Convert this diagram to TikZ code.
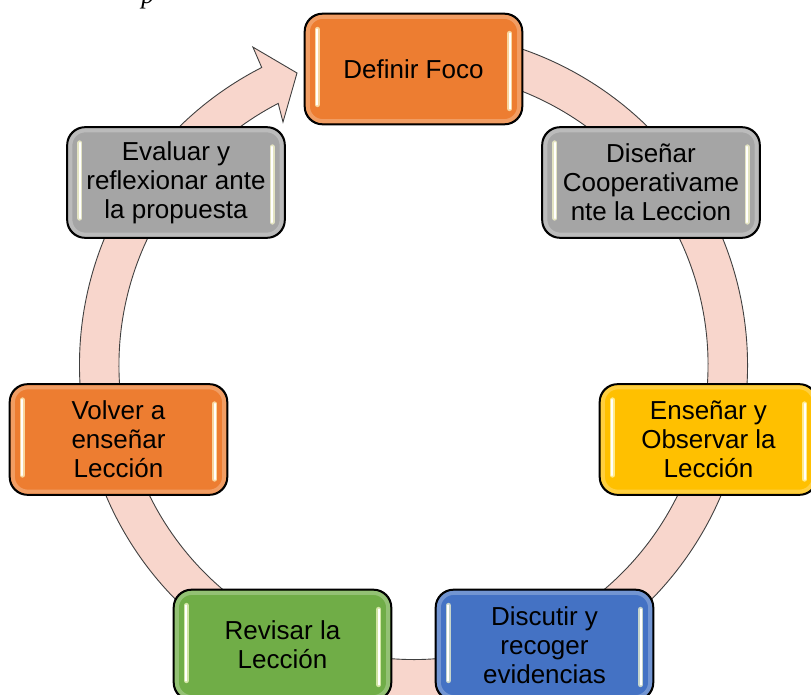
\documentclass[tikz,border=0pt]{standalone}
\usepackage{fontspec}
\setmainfont{Liberation Sans}
\newfontfamily\capfont{Liberation Serif}
\definecolor{cOrange}{HTML}{ED7D31}
\definecolor{cGray}{HTML}{A5A5A5}
\definecolor{cGold}{HTML}{FFC000}
\definecolor{cBlue}{HTML}{4472C4}
\definecolor{cGreen}{HTML}{70AD47}
\definecolor{ringc}{HTML}{F8D6CC}
\tikzset{
  stagebox/.style={draw=black, line width=1.3pt, rounded corners=18pt,
    minimum width=217pt, minimum height=110pt, inner sep=0pt, align=center,
    font=\fontsize{26}{28.8}\selectfont, text=black},
  ringline/.style={fill=ringc, draw=black!75, line width=0.9pt, line join=miter},
}
\newcommand\glossybox[4]{%
  \node[stagebox, fill=#3] (#1) at (#2) {#4};
  \draw[#3!45!white, line width=4pt, opacity=.45, rounded corners=15pt]
    ([shift={(3.5pt,-3.5pt)}]#1.north west) rectangle ([shift={(-3.5pt,3.5pt)}]#1.south east);
  \draw[#3!30!yellow!25!white, line width=5pt, opacity=.75, line cap=round]
    ([shift={(13pt,-16pt)}]#1.north west) -- ([shift={(13pt,20pt)}]#1.south west);
  \draw[#3!30!yellow!25!white, line width=5pt, opacity=.75, line cap=round]
    ([shift={(-13pt,-20pt)}]#1.north east) -- ([shift={(-13pt,16pt)}]#1.south east);
  \draw[white, line width=1.8pt, line cap=round]
    ([shift={(13pt,-16pt)}]#1.north west) -- ([shift={(13pt,20pt)}]#1.south west);
  \draw[white, line width=1.8pt, line cap=round]
    ([shift={(-13pt,-20pt)}]#1.north east) -- ([shift={(-13pt,16pt)}]#1.south east);
  \draw[black, line width=1.3pt, rounded corners=18pt]
    (#1.north west) rectangle (#1.south east);
}
\begin{document}
\begin{tikzpicture}[x=1pt,y=1pt]
\useasboundingbox (-413.5,-329) rectangle (397.5,365);
\node[anchor=base, inner sep=0pt, font=\capfont\itshape\fontsize{26}{30}\selectfont] (cap) at (-265.5,361) {p};
% circular arrow
\draw[ringline] (100:334pt) arc[start angle=100, end angle=-242.97, radius=334pt]
  -- (-243.2:356.2pt) -- (-248.25:314.4pt) -- (-241.76:275.8pt)
  -- (-242.65:294.5pt) arc[start angle=-242.65, end angle=100, radius=294.5pt] -- cycle;
% boxes
\glossybox{foco}{0,296}{cOrange}{Definir Foco}
\glossybox{disenar}{237.5,182.5}{cGray}{Diseñar\\Cooperativame\\nte la Leccion}
\glossybox{ensenar}{295,-74.5}{cGold}{Enseñar y\\Observar la\\Lección}
\glossybox{discutir}{131,-280}{cBlue}{Discutir y\\recoger\\evidencias}
\glossybox{revisar}{-131,-280}{cGreen}{Revisar la\\Lección}
\glossybox{volver}{-295,-74.5}{cOrange}{Volver a\\enseñar\\Lección}
\glossybox{evaluar}{-237.5,182.5}{cGray}{Evaluar y\\reflexionar ante\\la propuesta}
\end{tikzpicture}
\end{document}
